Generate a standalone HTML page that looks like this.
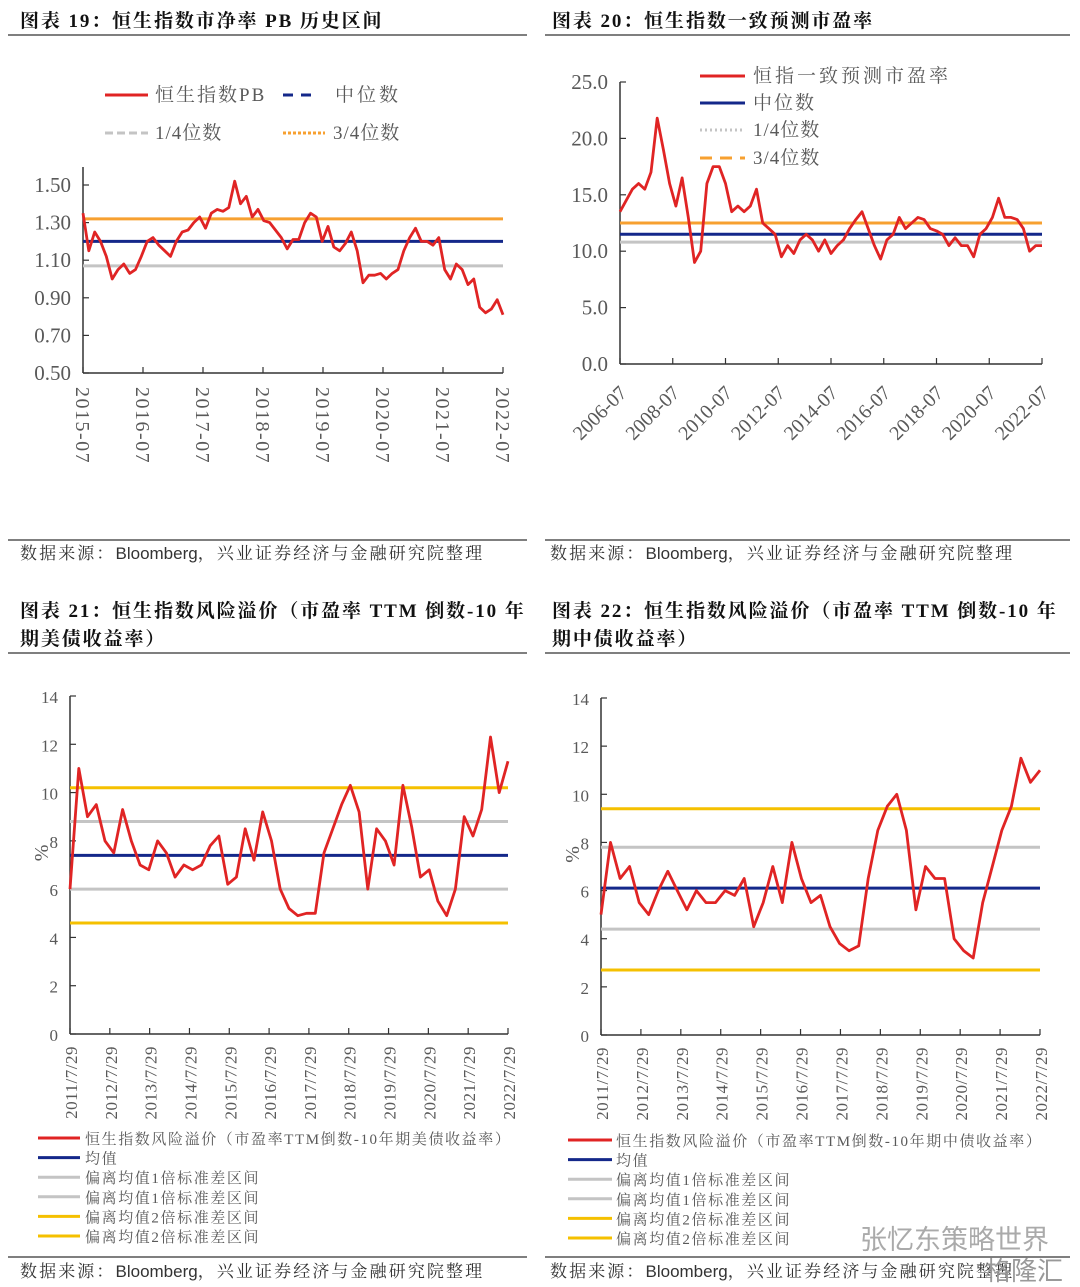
<!DOCTYPE html>
<html><head><meta charset="utf-8">
<style>
body{margin:0;background:#fff;}
#wrap{position:relative;width:1080px;height:1287px;overflow:hidden;background:#fff;font-family:"Liberation Serif","Noto Serif CJK SC",serif;}
svg{position:absolute;left:0;top:0;}
</style></head>
<body>
<div id="wrap">
<svg id="s" width="1080" height="1287" viewBox="0 0 1080 1287"></svg>
</div>
<script>
// ---- Chart 19: PB ----
const pbTicks=["2015-07","2016-07","2017-07","2018-07","2019-07","2020-07","2021-07","2022-07"];
const pbYTicks=[0.50,0.70,0.90,1.10,1.30,1.50];
const pbValues=[1.35,1.15,1.25,1.20,1.12,1.00,1.05,1.08,1.03,1.05,1.12,1.20,1.22,1.18,1.15,1.12,1.20,1.25,1.26,1.30,1.33,1.27,1.35,1.37,1.36,1.38,1.52,1.40,1.44,1.33,1.37,1.31,1.30,1.26,1.22,1.16,1.21,1.21,1.30,1.35,1.33,1.20,1.28,1.17,1.15,1.19,1.25,1.15,0.98,1.02,1.02,1.03,1.00,1.03,1.05,1.15,1.22,1.27,1.20,1.20,1.18,1.22,1.05,1.00,1.08,1.05,0.97,1.00,0.85,0.82,0.84,0.89,0.81];
const pbRefs=[1.32,1.20,1.07];
// ---- Chart 20: PE ----
const peTicks=["2006-07","2008-07","2010-07","2012-07","2014-07","2016-07","2018-07","2020-07","2022-07"];
const peYTicks=[0,5,10,15,20,25];
const peValues=[13.5,14.5,15.5,16,15.5,17,21.8,19,16,14,16.5,13,9,10,16,17.5,17.5,16,13.5,14,13.5,14,15.5,12.5,12,11.5,9.5,10.5,9.8,11,11.5,11,10,11,9.8,10.5,11,12,12.8,13.5,12,10.5,9.3,11,11.5,13,12,12.5,13,12.8,12,11.8,11.5,10.5,11.2,10.5,10.5,9.5,11.5,12,13,14.7,13,13,12.8,12,10,10.5,10.5];
const peRefs=[12.5,11.5,10.8];
// ---- Chart 21: risk premium US ----
const rpTicks=["2011/7/29","2012/7/29","2013/7/29","2014/7/29","2015/7/29","2016/7/29","2017/7/29","2018/7/29","2019/7/29","2020/7/29","2021/7/29","2022/7/29"];
const rpYTicks=[0,2,4,6,8,10,12,14];
const usValues=[6,11,9,9.5,8,7.5,9.3,8,7,6.8,8,7.5,6.5,7,6.8,7,7.8,8.2,6.2,6.5,8.5,7.2,9.2,8,6,5.2,4.9,5,5,7.5,8.5,9.5,10.3,9.2,6,8.5,8,7,10.3,8.6,6.5,6.8,5.5,4.9,6,9,8.2,9.3,12.3,10,11.3];
const usRefs=[10.2,8.8,7.4,6.0,4.6];
// ---- Chart 22: risk premium CN ----
const cnValues=[5,8,6.5,7,5.5,5,6,6.8,6,5.2,6,5.5,5.5,6,5.8,6.5,4.5,5.5,7,5.5,8,6.5,5.5,5.8,4.5,3.8,3.5,3.7,6.5,8.5,9.5,10,8.5,5.2,7,6.5,6.5,4,3.5,3.2,5.5,7,8.5,9.5,11.5,10.5,11];
const cnRefs=[9.4,7.8,6.1,4.4,2.7];

const NS="http://www.w3.org/2000/svg";
const S=document.getElementById('s');
function mk(tag,attrs,parent){const e=document.createElementNS(NS,tag);for(const k in attrs)e.setAttribute(k,attrs[k]);(parent||S).appendChild(e);return e;}
function txt(x,y,t,attrs){const e=mk('text',Object.assign({x:x,y:y},attrs||{}));e.textContent=t;return e;}
const GRAY="#595959";

function chart(o){
  const g=mk('g',{});
  
  
  const yS=v=>o.y0-(v-o.vmin)/(o.vmax-o.vmin)*(o.y0-o.y1);
  const xS=i=>o.x0+i/(o.vals.length-1)*(o.x1-o.x0);
  const ya=mk('line',{x1:o.x0,x2:o.x0,y1:o.axTop,y2:o.y0,stroke:'#333','stroke-width':1.5},g);
  
  const xa=mk('line',{x1:o.x0,x2:o.x1,y1:o.y0,y2:o.y0,stroke:'#333','stroke-width':1.5},g);
  
  o.yTicks.forEach(v=>{
    const y=yS(v);
    mk('line',{x1:o.x0,x2:o.x0+6,y1:y,y2:y,stroke:'#333','stroke-width':1.2},g);
    const t=txt(o.x0-12,y+7,o.yFmt(v),{'text-anchor':'end','font-size':o.yfs,fill:GRAY});
    
    g.appendChild(t);
  });
  const n=o.xTicks.length;
  o.xTicks.forEach((lab,i)=>{
    const x=o.x0+i/(n-1)*(o.x1-o.x0);
    mk('line',{x1:x,x2:x,y1:o.y0,y2:o.y0-6,stroke:'#333','stroke-width':1.2},g);
    let t;
    if(o.rot===90){t=txt(0,0,lab,{transform:`translate(${x-7},${o.y0+14}) rotate(90)`,'font-size':o.xfs,'letter-spacing':1.5,fill:GRAY});}
    else if(o.rot===-90){t=txt(0,0,lab,{transform:`translate(${x+7},${o.y0+12}) rotate(-90)`,'text-anchor':'end','font-size':o.xfs,'letter-spacing':0.5,fill:GRAY});}
    else {t=txt(0,0,lab,{transform:`translate(${x+8},${o.y0+30}) rotate(-45)`,'text-anchor':'end','font-size':o.xfs,fill:GRAY});}
    
    g.appendChild(t);
  });
  o.refs.forEach((v,i)=>{
    const l=mk('line',{x1:o.x0,x2:o.x1,y1:yS(v),y2:yS(v),stroke:o.refColors[i],'stroke-width':3},g);
    
  });
  const pts=o.vals.map((v,i)=>xS(i).toFixed(1)+','+yS(v).toFixed(1)).join(' ');
  const p=mk('polyline',{points:pts,fill:'none',stroke:'#e02424','stroke-width':2.8,'stroke-linejoin':'round'},g);
  
  if(o.ylab){const t=txt(0,0,'%',{transform:`translate(${o.x0-22},${yS(7.5)}) rotate(-90)`,'text-anchor':'middle','font-size':20,fill:GRAY});g.appendChild(t);}
}

chart({name:'pb-chart',x0:83,x1:503,y0:373,y1:185,vmin:0.5,vmax:1.5,axTop:167,yTicks:pbYTicks,yFmt:v=>v.toFixed(2),xTicks:pbTicks,rot:90,vals:pbValues,refs:pbRefs,refColors:['#f7a030','#14288a','#c4c4c4'],yfs:21,xfs:20});
chart({name:'pe-chart',x0:620,x1:1042,y0:364,y1:82,vmin:0,vmax:25,axTop:82,yTicks:peYTicks,yFmt:v=>v.toFixed(1),xTicks:peTicks,rot:-45,vals:peValues,refs:peRefs,refColors:['#f7a030','#14288a','#c4c4c4'],yfs:21,xfs:20});
chart({name:'us-risk-premium-chart',x0:70,x1:508,y0:1034,y1:696,vmin:0,vmax:14,axTop:696,yTicks:rpYTicks,yFmt:v=>String(v),xTicks:rpTicks,rot:-90,vals:usValues,refs:usRefs,refColors:['#f5c000','#c4c4c4','#14288a','#c4c4c4','#f5c000'],yfs:17,xfs:17,ylab:true});
chart({name:'cn-risk-premium-chart',x0:601,x1:1040,y0:1035,y1:698,vmin:0,vmax:14,axTop:698,yTicks:rpYTicks,yFmt:v=>String(v),xTicks:rpTicks,rot:-90,vals:cnValues,refs:cnRefs,refColors:['#f5c000','#c4c4c4','#14288a','#c4c4c4','#f5c000'],yfs:17,xfs:17,ylab:true});

function leg(x1,x2,y,color,dash,label,tx,fs,name,ls){
  const l=mk('line',{x1:x1,x2:x2,y1:y,y2:y,stroke:color,'stroke-width':3,'stroke-dasharray':dash||''});
  
  const t=txt(tx,y+6,label,{'font-size':fs,fill:GRAY,'letter-spacing':ls});
  
}
leg(105,148,95,'#e02424','','恒生指数PB',155,19,'legend-pb',2);
leg(283,318,95,'#14288a','10,8','中位数',335,19,'legend-median',3);
leg(105,148,133,'#c4c4c4','8,4','1/4位数',155,19,'legend-q1',1);
leg(283,325,133,'#f7a030','3,2','3/4位数',333,19,'legend-q3',1);
leg(700,745,76,'#e02424','','恒指一致预测市盈率',753,19,'legend-pe',3);
leg(700,745,103,'#14288a','','中位数',753,19,'legend-median',2);
leg(700,745,130,'#c4c4c4','2,3','1/4位数',753,19,'legend-q1',1);
leg(700,745,158,'#f7a030','12,8','3/4位数',753,19,'legend-q3',1);
const lg=['恒生指数风险溢价（市盈率TTM倒数-10年期美债收益率）','均值','偏离均值1倍标准差区间','偏离均值1倍标准差区间','偏离均值2倍标准差区间','偏离均值2倍标准差区间'];
const lg2=['恒生指数风险溢价（市盈率TTM倒数-10年期中债收益率）','均值','偏离均值1倍标准差区间','偏离均值1倍标准差区间','偏离均值2倍标准差区间','偏离均值2倍标准差区间'];
const lc=['#e02424','#14288a','#c4c4c4','#c4c4c4','#f5c000','#f5c000'];
lg.forEach((s,i)=>leg(38,80,1138+i*19.6,lc[i],'',s,85,15,'legend-us-'+i,1.6));
lg2.forEach((s,i)=>leg(568,612,1140+i*19.6,lc[i],'',s,616,15,'legend-cn-'+i,1.6));

function T(x,y,s,fs,name){const t=txt(x,y,s,{'font-size':fs,'font-weight':'bold',fill:'#111','letter-spacing':1.9});}
T(20,27,'图表 19：恒生指数市净率 PB 历史区间',19,'title-19');
T(552,27,'图表 20：恒生指数一致预测市盈率',19,'title-20');
T(20,617,'图表 21：恒生指数风险溢价（市盈率 TTM 倒数-10 年',19,'title-21');
T(20,645,'期美债收益率）',19,'title-21-line2');
T(552,617,'图表 22：恒生指数风险溢价（市盈率 TTM 倒数-10 年',19,'title-22');
T(552,645,'期中债收益率）',19,'title-22-line2');
[[35],[540],[653],[1257]].forEach(([y])=>{
  mk('line',{x1:8,x2:527,y1:y,y2:y,stroke:'#333','stroke-width':1.2});
  mk('line',{x1:545,x2:1070,y1:y,y2:y,stroke:'#333','stroke-width':1.2});
});
function src(x,y,name){const t=txt(x,y,'',{'font-size':17,fill:'#333'});
 t.innerHTML='<tspan letter-spacing="2.1">数据来源：</tspan><tspan font-family="Liberation Sans, sans-serif">Bloomberg</tspan><tspan letter-spacing="2.1">，兴业证券经济与金融研究院整理</tspan>';}
src(20,559,'source-19');src(550,559,'source-20');src(20,1277,'source-21');src(550,1277,'source-22');
const w=txt(860,1249,'张忆东策略世界',{'font-size':27,fill:'#aaa','font-family':'Liberation Sans, Noto Sans CJK SC, sans-serif'});

const w2=txt(985,1280,'格隆汇',{'font-size':26,fill:'#999','font-family':'Liberation Sans, Noto Sans CJK SC, sans-serif'});

</script>
</body></html>
